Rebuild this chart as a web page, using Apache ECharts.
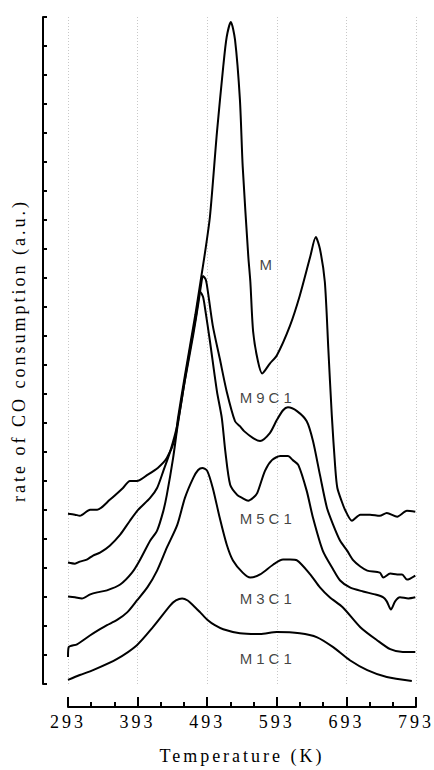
<!DOCTYPE html>
<html>
<head>
<meta charset="utf-8">
<script src="https://cdn.jsdelivr.net/npm/echarts@6/dist/echarts.min.js"></script>
<style>
  html, body { margin: 0; padding: 0; background: #fff; }
  #chart { width: 434px; height: 770px; }
  #chart svg text { letter-spacing: 3px; }
  #chart svg text[style*="Arial"] { letter-spacing: 4px; }
</style>
</head>
<body>
<div id="chart"></div>
<script>
// Temperature (K) and rate (a.u., offset stacked)
var xTicks = [293, 393, 493, 593, 693, 793];

var mTemp = [293,303,310,325,335,353,372,382,392,407,422,435,447,451,461,476,484,490,497,507,516,521,527,533,540,544,552,555,559,566,572,583,593,612,626,641,649,655,662,667,672,677,680,687,691,701,713,727,741,751,766,780,792];
var mRate = [5.87,5.84,5.80,6.01,6.01,6.35,6.76,7.00,7.00,7.21,7.45,7.79,8.48,9.17,10.64,12.74,13.97,14.90,16.13,19.02,21.28,22.31,22.83,22.21,20.15,17.85,14.76,13.87,12.15,11.12,10.71,11.05,11.33,12.36,13.39,14.73,15.41,15.00,13.87,11.57,9.27,7.45,6.76,6.25,6.01,5.63,5.84,5.84,5.80,5.90,5.77,5.97,5.94];

var m9Temp = [293,303,310,320,329,339,353,368,382,394,411,421,430,440,450,461,473,480,484,487,491,494,501,511,521,533,540,546,559,569,583,593,602,609,622,636,645,655,665,674,684,694,703,713,723,741,746,756,766,773,780,792];
var m9Rate = [4.19,4.15,4.22,4.29,4.43,4.53,4.77,5.15,5.63,6.01,6.42,6.76,7.35,8.03,8.93,10.47,12.05,13.08,13.73,14.07,13.94,13.53,12.36,11.23,10.09,9.06,8.89,8.72,8.48,8.38,8.65,9.10,9.44,9.54,9.41,9.06,8.38,7.21,6.08,5.49,4.94,4.60,4.26,4.05,3.91,3.84,3.67,3.81,3.78,3.78,3.60,3.74];

var m5Temp = [293,303,313,325,335,349,368,385,396,411,421,430,435,444,450,458,468,477,483,487,490,497,507,514,519,526,536,543,552,559,565,576,586,598,609,616,624,636,645,659,674,684,698,717,734,746,751,757,763,770,782,792];
var m5Rate = [3.02,2.99,2.95,3.09,3.16,3.23,3.43,3.84,4.26,4.94,5.29,5.97,6.52,7.79,8.82,10.06,11.50,12.70,13.53,13.35,12.94,11.81,10.09,9.17,8.03,6.87,6.52,6.42,6.32,6.42,6.59,7.35,7.72,7.86,7.86,7.72,7.55,6.66,5.73,4.60,3.95,3.57,3.33,3.19,3.09,2.99,2.85,2.57,2.85,2.99,2.95,2.99];

var m3Temp = [293,294,306,325,339,349,363,378,392,407,421,435,450,461,473,480,486,493,501,511,521,530,544,555,569,588,602,612,622,641,655,669,688,713,737,756,774,792];
var m3Rate = [0.93,1.27,1.37,1.68,1.89,2.03,2.20,2.47,2.88,3.33,3.91,4.70,5.49,6.42,7.11,7.38,7.45,7.35,6.76,5.73,4.81,4.26,3.84,3.67,3.78,4.12,4.29,4.29,4.26,3.78,3.33,2.99,2.64,1.96,1.51,1.20,1.10,1.10];

var m1Temp = [293,310,329,363,392,415,440,448,457,465,473,483,494,504,516,540,569,593,626,651,674,698,723,751,787];
var m1Rate = [0.14,0.31,0.48,0.86,1.34,1.96,2.71,2.88,2.95,2.88,2.71,2.47,2.20,2.03,1.89,1.75,1.72,1.79,1.75,1.61,1.27,0.82,0.48,0.24,0.10];

var labelNames = ['M', 'M9C1', 'M5C1', 'M3C1', 'M1C1'];
var labelTemp = [580, 580, 580, 580, 580];
var labelRate = [14.45, 9.89, 5.70, 2.95, 0.89];

function zip(a, b) { return a.map(function (v, i) { return [v, b[i]]; }); }

var curves = [
  ['M', mTemp, mRate],
  ['M9C1', m9Temp, m9Rate],
  ['M5C1', m5Temp, m5Rate],
  ['M3C1', m3Temp, m3Rate],
  ['M1C1', m1Temp, m1Rate]
];

var series = curves.map(function (c) {
  return {
    name: c[0], type: 'line', data: zip(c[1], c[2]),
    showSymbol: false, smooth: 0.25, silent: true,
    lineStyle: { color: '#000', width: 2 }
  };
});
series.push({
  type: 'scatter', symbolSize: 0, silent: true,
  data: labelNames.map(function (n, i) { return { name: n, value: [labelTemp[i], labelRate[i]] }; }),
  label: { show: true, position: 'inside', formatter: '{b}', color: '#111',
           fontFamily: 'Arial, "Liberation Sans"', fontSize: 15 }
});

var serif = '"Liberation Serif", "Times New Roman", serif';
var chart = echarts.init(document.getElementById('chart'), null, { renderer: 'svg' });
chart.setOption({
  animation: false,
  backgroundColor: '#fff',
  grid: { left: 68, right: 18, top: 17, bottom: 83 },
  xAxis: {
    type: 'value', min: 293, max: 793, interval: 100, offset: 23,
    name: 'Temperature (K)', nameLocation: 'middle', nameGap: 40,
    nameTextStyle: { fontFamily: serif, fontSize: 18, color: '#000' },
    axisLine: { show: true, onZero: false, lineStyle: { color: '#000', width: 2 } },
    axisTick: { show: true, inside: true, length: 10, lineStyle: { color: '#000', width: 2 } },
    minorTick: { show: true, splitNumber: 3, length: 5, lineStyle: { color: '#000', width: 2 } },
    axisLabel: { margin: 6, fontFamily: serif, fontSize: 18, color: '#000',
                 formatter: function (v) { return xTicks.indexOf(v) >= 0 ? String(v) : ''; } },
    splitLine: { show: true, lineStyle: { color: '#c8c8c8', width: 1, type: [1, 2] } }
  },
  yAxis: {
    type: 'value', min: 0, max: 23, interval: 1, offset: 25,
    name: 'rate of CO consumption (a.u.)', nameLocation: 'middle', nameGap: 15,
    nameTextStyle: { fontFamily: serif, fontSize: 18, color: '#000' },
    axisLine: { show: true, onZero: false, lineStyle: { color: '#000', width: 2 } },
    axisTick: { show: true, inside: true, length: 4, lineStyle: { color: '#000', width: 2 } },
    axisLabel: { show: false },
    splitLine: { show: false }
  },
  series: series
});
</script>
</body>
</html>
